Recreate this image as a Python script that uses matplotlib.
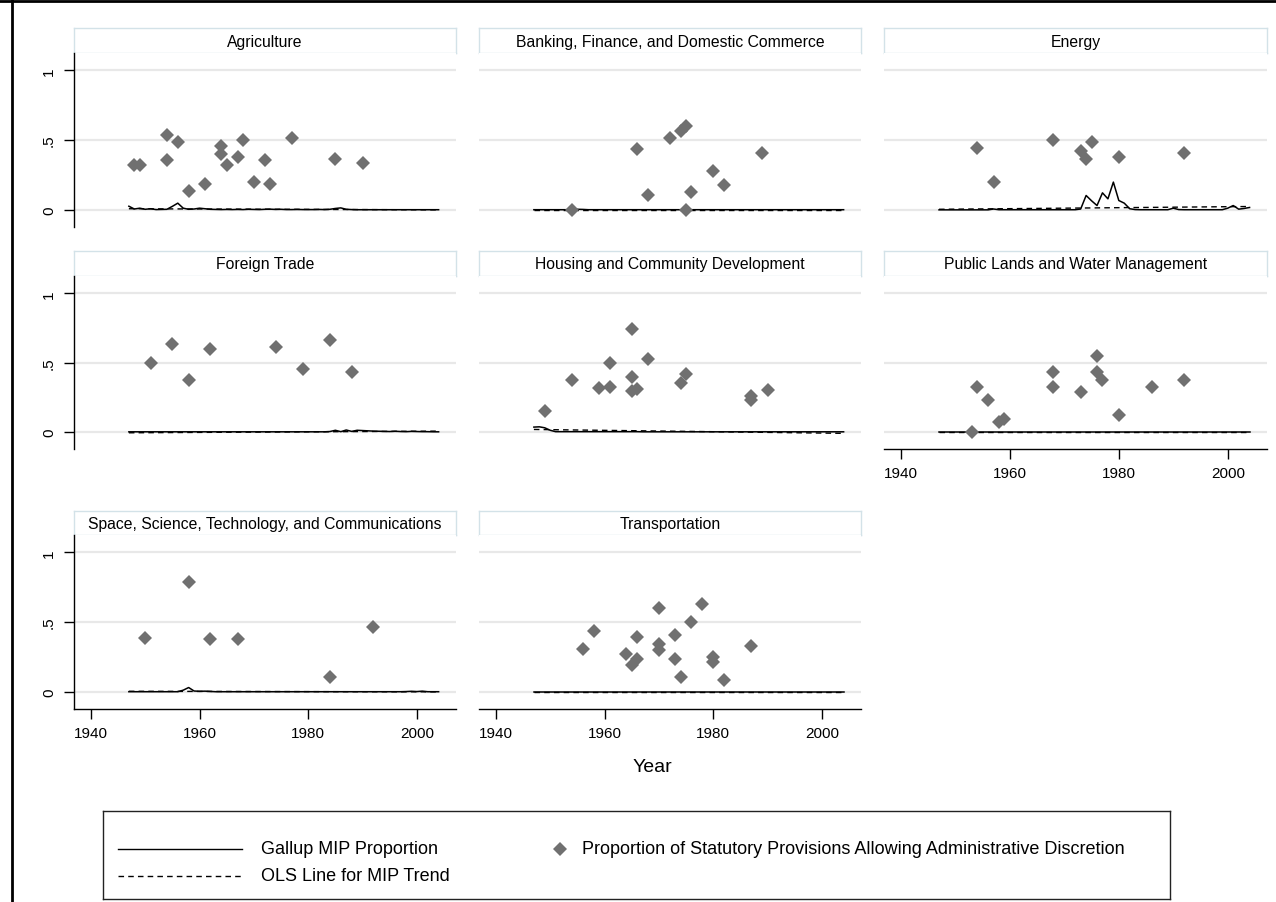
import matplotlib
matplotlib.use("Agg")
import matplotlib.pyplot as plt
from matplotlib.lines import Line2D
import numpy as np

plt.rcParams['font.family'] = ['Liberation Sans', 'DejaVu Sans']

# === CONFIG ===
W, H = 1276, 903
YEARS = np.arange(1947, 2005)
XTICKS = [1940, 1960, 1980, 2000]
YTICKS = [0, 0.5, 1]
YTICK_LABELS = ['0', '.5', '1']

TITLES = [
    "Agriculture",
    "Banking, Finance, and Domestic Commerce",
    "Energy",
    "Foreign Trade",
    "Housing and Community Development",
    "Public Lands and Water Management",
    "Space, Science, Technology, and Communications",
    "Transportation",
]

# statutory provisions allowing administrative discretion (year, proportion)
agri_yr = [1948, 1949, 1954, 1954, 1956, 1958, 1961, 1964, 1964, 1965, 1967, 1968, 1970, 1972, 1973, 1977, 1985, 1990]
agri_val = [0.325, 0.325, 0.538, 0.359, 0.486, 0.132, 0.189, 0.459, 0.40, 0.325, 0.376, 0.50, 0.203, 0.359, 0.189, 0.512, 0.364, 0.337]
bank_yr = [1954, 1966, 1968, 1972, 1974, 1975, 1975, 1976, 1980, 1982, 1989]
bank_val = [0.0, 0.44, 0.105, 0.517, 0.567, 0.605, 0.0, 0.129, 0.28, 0.177, 0.407]
energy_yr = [1954, 1957, 1968, 1973, 1974, 1975, 1980, 1992]
energy_val = [0.445, 0.20, 0.498, 0.419, 0.364, 0.486, 0.376, 0.407]
trade_yr = [1951, 1955, 1958, 1962, 1974, 1979, 1984, 1988]
trade_val = [0.495, 0.634, 0.376, 0.596, 0.612, 0.457, 0.663, 0.433]
housing_yr = [1949, 1954, 1959, 1961, 1961, 1965, 1965, 1965, 1966, 1968, 1974, 1975, 1987, 1987, 1990]
housing_val = [0.148, 0.378, 0.316, 0.325, 0.495, 0.744, 0.395, 0.294, 0.313, 0.526, 0.354, 0.421, 0.256, 0.232, 0.301]
lands_yr = [1953, 1954, 1956, 1958, 1959, 1968, 1968, 1973, 1976, 1976, 1977, 1980, 1986, 1992]
lands_val = [0.0, 0.325, 0.232, 0.069, 0.093, 0.433, 0.325, 0.285, 0.545, 0.433, 0.376, 0.124, 0.325, 0.376]
space_yr = [1950, 1958, 1962, 1967, 1984, 1992]
space_val = [0.383, 0.787, 0.378, 0.378, 0.108, 0.464]
transp_yr = [1956, 1958, 1964, 1965, 1966, 1966, 1970, 1970, 1970, 1973, 1973, 1974, 1976, 1978, 1980, 1980, 1982, 1987]
transp_val = [0.304, 0.435, 0.27, 0.191, 0.397, 0.234, 0.598, 0.342, 0.299, 0.407, 0.234, 0.108, 0.50, 0.627, 0.249, 0.215, 0.086, 0.328]

# Gallup MIP proportion, 1947-2004
agri_mip = [0.026, 0.006, 0.012, 0.004, 0.008, 0.002, 0.003, 0.004, 0.025, 0.048,
            0.012, 0.004, 0.006, 0.012, 0.008, 0.004, 0.003, 0.002, 0.003, 0.002,
            0.003, 0.002, 0.004, 0.003, 0.002, 0.004, 0.005, 0.003, 0.004, 0.002,
            0.002, 0.003, 0.002, 0.002, 0.002, 0.003, 0.002, 0.004, 0.010, 0.014,
            0.004, 0.002, 0.001, 0.001, 0.001, 0.001, 0.001, 0.001, 0.001, 0.001,
            0.001, 0.001, 0.001, 0.001, 0.001, 0.001, 0.001, 0.001]
bank_mip = [0.001, 0.001, 0.001, 0.001, 0.001, 0.001, 0.001, 0.001, 0.004, 0.003,
            0.001, 0.001, 0.001, 0.001, 0.001, 0.001, 0.001, 0.001, 0.001, 0.001,
            0.001, 0.001, 0.001, 0.001, 0.001, 0.001, 0.001, 0.001, 0.001, 0.001,
            0.001, 0.001, 0.001, 0.001, 0.001, 0.001, 0.001, 0.001, 0.001, 0.001,
            0.001, 0.001, 0.001, 0.001, 0.001, 0.001, 0.001, 0.001, 0.001, 0.001,
            0.001, 0.001, 0.001, 0.001, 0.001, 0.001, 0.001, 0.001]
energy_mip = [0.0, 0.0, 0.0, 0.0, 0.0, 0.0, 0.0, 0.0, 0.0, 0.0,
              0.006, 0.001, 0.001, 0.001, 0.001, 0.001, 0.001, 0.001, 0.001, 0.001,
              0.001, 0.001, 0.001, 0.001, 0.001, 0.001, 0.006, 0.103, 0.065, 0.031,
              0.122, 0.079, 0.199, 0.067, 0.048, 0.008, 0.002, 0.001, 0.001, 0.001,
              0.001, 0.001, 0.001, 0.012, 0.002, 0.001, 0.001, 0.001, 0.001, 0.001,
              0.001, 0.001, 0.001, 0.012, 0.031, 0.005, 0.010, 0.017]
trade_mip = [0.001, 0.001, 0.001, 0.001, 0.001, 0.001, 0.001, 0.001, 0.001, 0.001,
             0.001, 0.001, 0.001, 0.001, 0.001, 0.001, 0.001, 0.001, 0.001, 0.001,
             0.001, 0.001, 0.001, 0.001, 0.001, 0.001, 0.001, 0.001, 0.001, 0.001,
             0.001, 0.001, 0.001, 0.001, 0.001, 0.001, 0.001, 0.003, 0.012, 0.002,
             0.014, 0.004, 0.012, 0.010, 0.008, 0.006, 0.005, 0.004, 0.003, 0.005,
             0.003, 0.002, 0.004, 0.003, 0.002, 0.002, 0.001, 0.001]
housing_mip = [0.035, 0.037, 0.030, 0.012, 0.002, 0.002, 0.002, 0.002, 0.002, 0.002,
               0.002, 0.002, 0.002, 0.002, 0.002, 0.002, 0.002, 0.002, 0.002, 0.002,
               0.001, 0.001, 0.001, 0.001, 0.001, 0.001, 0.001, 0.001, 0.001, 0.001,
               0.001, 0.001, 0.001, 0.001, 0.001, 0.001, 0.001, 0.001, 0.001, 0.001,
               0.001, 0.001, 0.001, 0.001, 0.001, 0.001, 0.001, 0.001, 0.001, 0.001,
               0.001, 0.001, 0.001, 0.001, 0.001, 0.001, 0.001, 0.001]
lands_mip = [0.001, 0.001, 0.001, 0.001, 0.001, 0.001, 0.001, 0.001, 0.001, 0.001,
             0.001, 0.001, 0.001, 0.001, 0.001, 0.001, 0.001, 0.001, 0.001, 0.001,
             0.001, 0.001, 0.001, 0.001, 0.001, 0.001, 0.001, 0.001, 0.001, 0.001,
             0.001, 0.001, 0.001, 0.001, 0.001, 0.001, 0.001, 0.001, 0.001, 0.001,
             0.001, 0.001, 0.001, 0.001, 0.001, 0.001, 0.001, 0.001, 0.001, 0.001,
             0.001, 0.001, 0.001, 0.001, 0.001, 0.001, 0.001, 0.001]
space_mip = [0.001, 0.001, 0.001, 0.001, 0.001, 0.001, 0.001, 0.001, 0.001, 0.001,
             0.012, 0.031, 0.006, 0.004, 0.005, 0.003, 0.001, 0.001, 0.001, 0.001,
             0.001, 0.001, 0.001, 0.001, 0.001, 0.001, 0.001, 0.001, 0.001, 0.001,
             0.001, 0.001, 0.001, 0.001, 0.001, 0.001, 0.001, 0.001, 0.001, 0.001,
             0.001, 0.001, 0.001, 0.001, 0.001, 0.001, 0.001, 0.001, 0.001, 0.001,
             0.001, 0.002, 0.004, 0.002, 0.005, 0.001, 0.001, 0.001]
transp_mip = [0.001, 0.001, 0.001, 0.001, 0.001, 0.001, 0.001, 0.001, 0.001, 0.001,
              0.001, 0.001, 0.001, 0.001, 0.001, 0.001, 0.001, 0.001, 0.001, 0.001,
              0.001, 0.001, 0.001, 0.001, 0.001, 0.001, 0.001, 0.001, 0.001, 0.001,
              0.001, 0.001, 0.001, 0.001, 0.001, 0.001, 0.001, 0.001, 0.001, 0.001,
              0.001, 0.001, 0.001, 0.001, 0.001, 0.001, 0.001, 0.001, 0.001, 0.001,
              0.001, 0.001, 0.001, 0.001, 0.001, 0.001, 0.001, 0.001]

# OLS trend line endpoints (1947, 2004)
ols_ends = [(0.008, 0.0), (0.001, 0.001), (0.004, 0.024), (-0.006, 0.006),
            (0.018, -0.010), (0.001, 0.001), (0.004, 0.0), (0.001, 0.001)]

SCATTER = [(agri_yr, agri_val), (bank_yr, bank_val), (energy_yr, energy_val),
           (trade_yr, trade_val), (housing_yr, housing_val), (lands_yr, lands_val),
           (space_yr, space_val), (transp_yr, transp_val)]
MIP = [agri_mip, bank_mip, energy_mip, trade_mip, housing_mip, lands_mip, space_mip, transp_mip]

# panel layout in pixels
COL_X = [(74, 456), (479, 861), (884, 1267)]
ROW_STRIP = [(29, 54), (252, 277), (512, 536)]
ROW_PLOT = [(54, 228), (277, 450), (536, 710)]
MARKER_COLOR = '#707070'
GRID_COLOR = '#e8e8e8'
STRIP_EDGE = '#d3e2e8'


def px_rect(x1, y1, x2, y2):
    return [x1 / W, 1 - y2 / H, (x2 - x1) / W, (y2 - y1) / H]


def draw_panel(fig, i):
    row, col = divmod(i, 3)
    x1, x2 = COL_X[col]
    sy1, sy2 = ROW_STRIP[row]
    py1, py2 = ROW_PLOT[row]
    bottom_of_col = (i + 3) >= len(TITLES)

    strip = fig.add_axes(px_rect(x1, sy1, x2, sy2))
    strip.set_xticks([])
    strip.set_yticks([])
    for s in strip.spines.values():
        s.set_color(STRIP_EDGE)
        s.set_linewidth(1.0)
    strip.text(0.5, 0.48, TITLES[i], ha='center', va='center', fontsize=11.3,
               transform=strip.transAxes)

    ax = fig.add_axes(px_rect(x1, py1, x2, py2))
    ax.set_xlim(1936.9, 2007.2)
    ax.set_ylim(-0.123, 1.125)
    ax.set_yticks(YTICKS)
    ax.set_xticks(XTICKS)
    ax.grid(axis='y', color=GRID_COLOR, linewidth=1.6, zorder=0)
    ax.set_axisbelow(True)
    for s in ax.spines.values():
        s.set_visible(False)

    a, b = ols_ends[i]
    ax.plot([YEARS[0], YEARS[-1]], [a, b], color='black', linewidth=1.0,
            linestyle=(0, (4, 3)), zorder=2)
    ax.plot(YEARS, MIP[i], color='black', linewidth=1.1, zorder=3)
    xs, ys = SCATTER[i]
    ax.plot(xs, ys, linestyle='none', marker='D', markersize=6.8,
            color=MARKER_COLOR, markeredgewidth=0, zorder=4)

    if col == 0:
        ax.spines['left'].set_visible(True)
        ax.spines['left'].set_linewidth(1.0)
        ax.set_yticklabels(YTICK_LABELS, rotation=90, va='center')
        ax.tick_params(axis='y', length=7, width=1.0, pad=6, labelsize=11)
    else:
        ax.tick_params(axis='y', left=False, labelleft=False)

    if bottom_of_col:
        ax.spines['bottom'].set_visible(True)
        ax.spines['bottom'].set_linewidth(1.0)
        ax.set_xticklabels([str(t) for t in XTICKS])
        ax.tick_params(axis='x', length=7, width=1.0, pad=5, labelsize=11)
    else:
        ax.tick_params(axis='x', bottom=False, labelbottom=False)
    return ax


def draw_legend(fig):
    lx1, ly1, lx2, ly2 = 103, 812, 1170, 900
    leg = fig.add_axes(px_rect(lx1, ly1, lx2, ly2))
    leg.set_xlim(lx1, lx2)
    leg.set_ylim(ly2, ly1)
    leg.set_xticks([])
    leg.set_yticks([])
    for s in leg.spines.values():
        s.set_linewidth(1.0)
        s.set_color('#222222')
    r1, r2 = 850, 877
    leg.plot([118, 242], [r1, r1], color='black', linewidth=1.0)
    leg.plot([118, 242], [r2, r2], color='black', linewidth=1.0, linestyle=(0, (4, 3)))
    leg.plot([560], [r1], marker='D', markersize=6.8, color=MARKER_COLOR, markeredgewidth=0)
    leg.text(261, r1, "Gallup MIP Proportion", va='center', fontsize=13)
    leg.text(261, r2, "OLS Line for MIP Trend", va='center', fontsize=13)
    leg.text(582, r1, "Proportion of Statutory Provisions Allowing Administrative Discretion",
             va='center', fontsize=13)


def main():
    fig = plt.figure(figsize=(W / 100, H / 100), dpi=100)
    fig.patch.set_facecolor('white')
    for i in range(len(TITLES)):
        draw_panel(fig, i)
    fig.text(652 / W, 1 - 768 / H, "Year", ha='center', va='center', fontsize=14)
    draw_legend(fig)
    # outer frame remnants
    fig.add_artist(Line2D([0, 1], [1 - 1.5 / H, 1 - 1.5 / H], color='black', linewidth=2))
    fig.add_artist(Line2D([11.5 / W, 11.5 / W], [0, 1], color='black', linewidth=2))
    fig.savefig('out.png', dpi=100)
    plt.close(fig)


if __name__ == "__main__":
    main()
